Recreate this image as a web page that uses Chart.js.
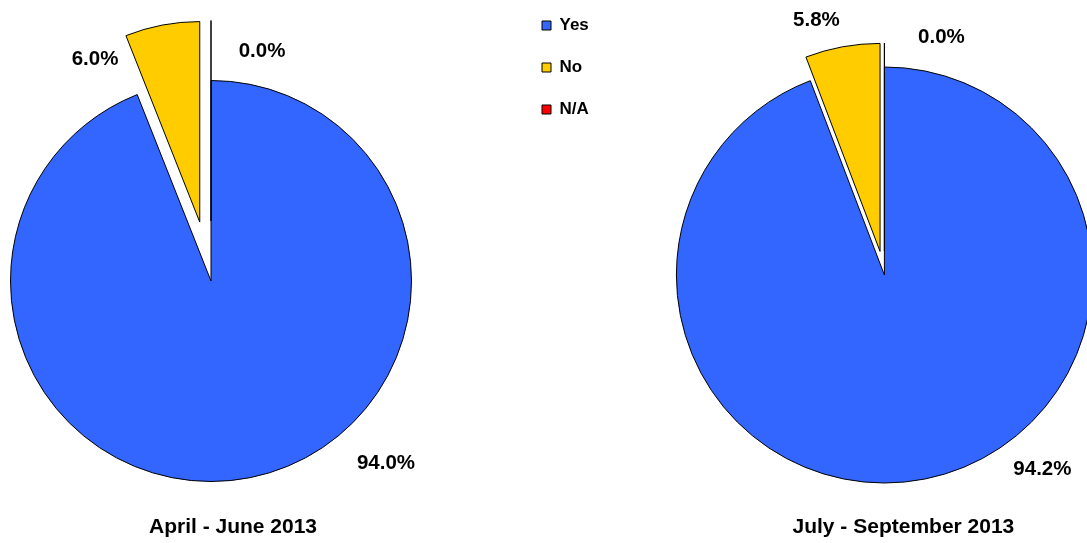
<!DOCTYPE html>
<html>
<head>
<meta charset="utf-8">
<script src="https://cdn.jsdelivr.net/npm/chart.js@4.4.1/dist/chart.umd.min.js"></script>
<style>
  html, body { margin: 0; padding: 0; background: #fff; }
  body { width: 1087px; height: 543px; overflow: hidden; position: relative; }
  canvas { position: absolute; }
  #pieQ2 { left: 0; top: 0; }
  #pieQ3 { left: 517px; top: -8px; }
</style>
</head>
<body>
<canvas id="pieQ2" width="422" height="562"></canvas>
<canvas id="pieQ3" width="653" height="566"></canvas>
<script>
// Answer categories and the share (%) of each, per quarter
const categories = ['Yes', 'No', 'N/A'];
const aprJun2013 = [94.0, 6.0, 0.0];
const julSep2013 = [94.2, 5.8, 0.0];
const periodTitles = ['April - June 2013', 'July - September 2013'];
const sliceColors = ['#3366FF', '#FFCC00', '#FF0000'];

Chart.defaults.font.family = '"Liberation Sans", Arial, sans-serif';
Chart.defaults.color = '#000';

// Exploded slices are moved out whole along their bisector (same radius),
// the way office pie charts pull segments out.
Chart.ArcElement.prototype.draw = function (ctx) {
  const { x, y, startAngle, endAngle, outerRadius, options } = this;
  const mid = (startAngle + endAngle) / 2;
  const shift = options.offset || 0;
  const cx = x + Math.cos(mid) * shift;
  const cy = y + Math.sin(mid) * shift;
  ctx.save();
  ctx.beginPath();
  ctx.moveTo(cx, cy);
  ctx.arc(cx, cy, outerRadius, startAngle, endAngle);
  ctx.closePath();
  ctx.fillStyle = options.backgroundColor;
  ctx.fill();
  if (options.borderWidth) {
    ctx.lineWidth = options.borderWidth;
    ctx.strokeStyle = options.borderColor;
    ctx.lineJoin = 'miter';
    ctx.stroke();
  }
  ctx.restore();
};

// Percentage labels beside the slices and the period caption under each pie
const sliceLabels = {
  id: 'sliceLabels',
  afterDatasetsDraw(chart, args, opts) {
    const ctx = chart.ctx;
    const meta = chart.getDatasetMeta(0);
    const values = chart.data.datasets[0].data;
    const centre = meta.data[0];
    ctx.save();
    ctx.fillStyle = '#000';
    ctx.textAlign = 'center';
    ctx.textBaseline = 'alphabetic';
    ctx.font = 'bold ' + opts.valueSize + 'px "Liberation Sans", Arial, sans-serif';
    meta.data.forEach((arc, i) => {
      const [dx, dy] = opts.valueOffsets[i];
      ctx.fillText(values[i].toFixed(1) + '%', arc.x + dx, arc.y + dy);
    });
    ctx.font = 'bold ' + opts.captionSize + 'px "Liberation Sans", Arial, sans-serif';
    ctx.fillText(opts.caption, centre.x + opts.captionOffset[0], centre.y + opts.captionOffset[1]);
    ctx.restore();
  }
};

function makePie(canvasId, values, caption, radius, explode, valueOffsets, captionOffset, showLegend) {
  return new Chart(document.getElementById(canvasId), {
    type: 'pie',
    data: {
      labels: categories,
      datasets: [{
        data: values,
        backgroundColor: sliceColors,
        borderColor: '#000',
        borderWidth: 1,
        offset: [0, explode, explode],
        clip: false
      }]
    },
    options: {
      responsive: false,
      maintainAspectRatio: false,
      animation: false,
      events: [],
      radius: radius,
      layout: { padding: 0 },
      plugins: {
        legend: {
          display: showLegend,
          position: 'left',
          align: 'start',
          labels: {
            boxWidth: 9,
            boxHeight: 9,
            padding: 25,
            color: '#000',
            font: { size: 17, weight: 'bold' }
          }
        },
        title: { display: false },
        tooltip: { enabled: false },
        sliceLabels: {
          valueSize: 20.5,
          captionSize: 21,
          valueOffsets: valueOffsets,
          caption: caption,
          captionOffset: captionOffset
        }
      }
    },
    plugins: [sliceLabels]
  });
}

makePie('pieQ2', aprJun2013, periodTitles[0], 200.5, 60,
  [[175, 188], [-116, -216], [51, -224]], [22, 252], false);

makePie('pieQ3', julSep2013, periodTitles[1], 208, 24,
  [[158, 200], [-68, -249], [57, -232]], [19, 258], true);
</script>
</body>
</html>
